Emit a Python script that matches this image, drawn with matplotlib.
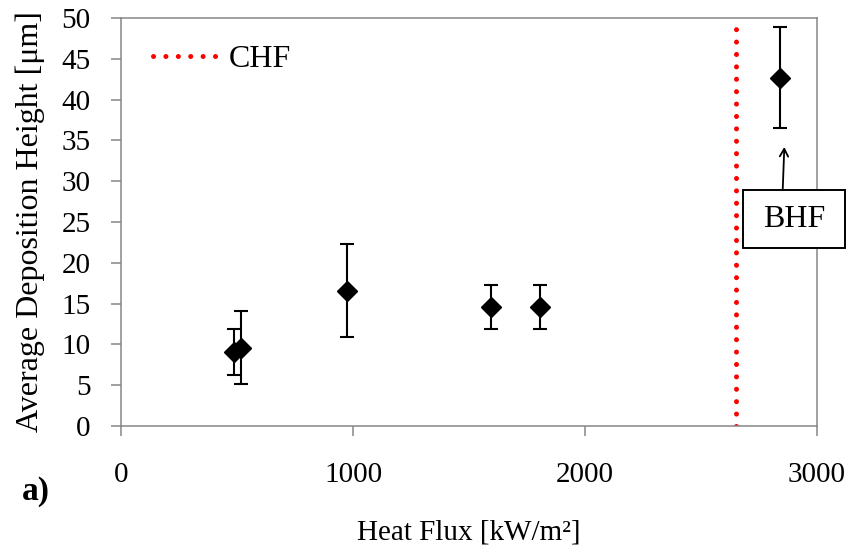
import matplotlib
matplotlib.use("Agg")
import matplotlib.pyplot as plt
from matplotlib.patches import Rectangle

plt.rcParams['font.family'] = ['Liberation Serif', 'DejaVu Serif']

heat_flux = [485, 519, 975, 1595, 1808, 2840]
height = [9.1, 9.6, 16.6, 14.6, 14.6, 42.7]
err = [2.8, 4.5, 5.7, 2.7, 2.7, 6.2]
chf = 2650
xticks = [0, 1000, 2000, 3000]
yticks = list(range(0, 51, 5))

fig = plt.figure(figsize=(8.55, 5.48), dpi=100)
ax = fig.add_axes([0.1415, 0.2226, 0.8141, 0.7445])

ax.errorbar(heat_flux, height, yerr=err, fmt='D', color='black', ms=10,
            ecolor='black', elinewidth=1.5, capsize=5, capthick=1.5, zorder=3)
ax.axvline(chf, color='#ff0000', lw=3.6, linestyle=(0, (0.01, 2.47)),
           dash_capstyle='round', label='CHF', zorder=2)

ax.set_xlim(0, 3000)
ax.set_ylim(0, 50)
ax.set_xticks(xticks)
ax.set_yticks(yticks)
for s in ax.spines.values():
    s.set_color('#868686')
    s.set_linewidth(1.1)
ax.tick_params(axis='both', colors='#868686', labelcolor='black', labelsize=21,
               length=7, width=1.1, direction='out')
ax.tick_params(axis='x', pad=19)
ax.tick_params(axis='y', pad=15)

ax.set_ylabel('Average Deposition Height [μm]', fontsize=23, labelpad=12)
ax.set_xlabel('Heat Flux [kW/m²]', fontsize=21)
ax.xaxis.set_label_coords(0.5, -0.277)
ax.xaxis.label.set_va('baseline')
fig.text(0.026, 0.088, 'a)', fontsize=24, fontweight='bold', va='baseline')

leg = ax.legend(loc='upper left', frameon=False, fontsize=23, handlelength=2.07,
                handletextpad=0.3, borderaxespad=0, bbox_to_anchor=(0.028, 0.965))

# BHF label box with arrow
ax.add_patch(Rectangle((2682, 21.8), 3121 - 2682, 28.9 - 21.8, transform=ax.transData,
                       fc='white', ec='black', lw=1.4, clip_on=False, zorder=4))
ax.text(2901, 25.3, 'BHF', fontsize=23, ha='center', va='center', zorder=5)
ax.annotate('', xy=(2859, 34.2), xytext=(2852, 28.9), annotation_clip=False,
            arrowprops=dict(arrowstyle='->,head_length=0.55,head_width=0.3',
                            color='black', lw=1.3, shrinkA=0, shrinkB=0))

fig.savefig('out.png', dpi=100)
